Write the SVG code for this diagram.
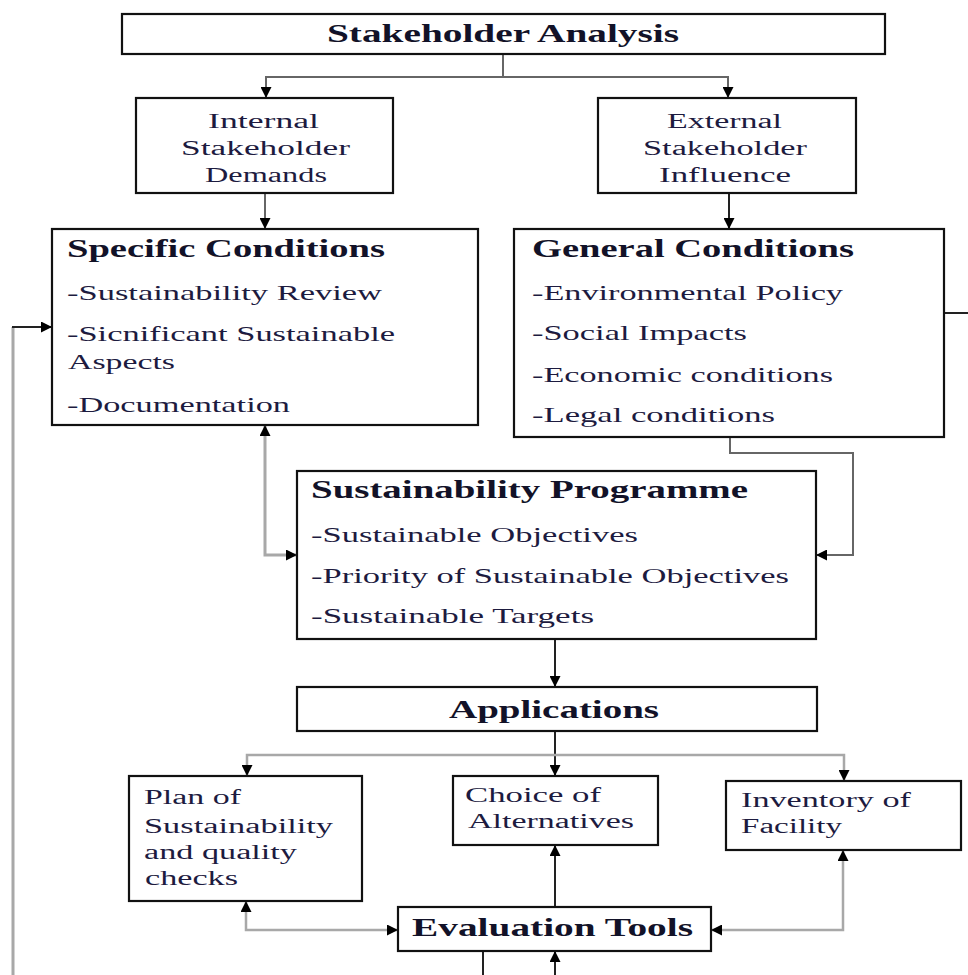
<svg xmlns="http://www.w3.org/2000/svg" width="968" height="975" viewBox="0 0 968 975">
  <defs>
    <marker id="arrow" viewBox="0 0 10 10" refX="10" refY="5" markerWidth="11" markerHeight="11" markerUnits="userSpaceOnUse" orient="auto-start-reverse">
      <path d="M0,0 L10,5 L0,10 z" fill="#000"/>
    </marker>
    <style>
      .box { fill: #fff; stroke: #111; stroke-width: 2.2; }
      .t { font-family: "Liberation Serif", "Times New Roman", serif; fill: #1d1b3f; }
      .h { font-weight: bold; font-size: 26px; fill: #121228; }
      .s20 { font-size: 20.5px; }
      .s21 { font-size: 22px; }
      .c { fill: none; stroke-width: 2; }
      .dark { stroke: #222; }
      .mid { stroke: #666; }
      .light { stroke: #a8a8a8; stroke-width: 3; }
    </style>
  </defs>

  <!-- connectors -->
  <g id="connectors">
    <path class="c mid" d="M503,54 V77"/>
    <path class="c mid" d="M503,77 H266 V98" marker-end="url(#arrow)"/>
    <path class="c mid" d="M503,77 H728 V98" marker-end="url(#arrow)"/>
    <path class="c mid" d="M265,194 V229" marker-end="url(#arrow)"/>
    <path class="c dark" d="M729,194 V229" marker-end="url(#arrow)"/>
    <path class="c light" d="M13,975 V327"/>
    <path class="c dark" d="M12,327 H52" marker-end="url(#arrow)"/>
    <path class="c light" d="M265,425 V555 H297" marker-start="url(#arrow)" marker-end="url(#arrow)"/>
    <path class="c mid" d="M730,437 V453 H853 V555 H816" marker-end="url(#arrow)"/>
    <path class="c dark" d="M944,313 H968"/>
    <path class="c dark" d="M555,639 V687" marker-end="url(#arrow)"/>
    <path class="c dark" d="M555,731 V776" marker-end="url(#arrow)"/>
    <path class="c light" style="stroke-width:2.5" d="M247,776 V755 H844 V781" marker-start="url(#arrow)" marker-end="url(#arrow)"/>
    <path class="c light" style="stroke-width:2.5" d="M246,901 V930 H398" marker-start="url(#arrow)" marker-end="url(#arrow)"/>
    <path class="c light" style="stroke-width:2.5" d="M843,850 V930 H711" marker-start="url(#arrow)" marker-end="url(#arrow)"/>
    <path class="c dark" d="M555,907 V845" marker-end="url(#arrow)"/>
    <path class="c dark" d="M483,951 V975"/>
    <path class="c dark" d="M555,975 V951" marker-end="url(#arrow)"/>
  </g>

  <g id="stakeholder-analysis">
    <rect class="box" x="122" y="14" width="763" height="40"/>
    <text class="t h" x="327" y="42" textLength="352" lengthAdjust="spacingAndGlyphs">Stakeholder Analysis</text>
  </g>

  <g id="internal-demands">
    <rect class="box" x="136" y="98" width="257" height="95"/>
    <text class="t s20" x="208" y="128" textLength="111" lengthAdjust="spacingAndGlyphs">Internal</text>
    <text class="t s20" x="181" y="155" textLength="169" lengthAdjust="spacingAndGlyphs">Stakeholder</text>
    <text class="t s20" x="205" y="182" textLength="122" lengthAdjust="spacingAndGlyphs">Demands</text>
  </g>

  <g id="external-influence">
    <rect class="box" x="598" y="98" width="258" height="95"/>
    <text class="t s20" x="667" y="128" textLength="115" lengthAdjust="spacingAndGlyphs">External</text>
    <text class="t s20" x="643" y="155" textLength="164" lengthAdjust="spacingAndGlyphs">Stakeholder</text>
    <text class="t s20" x="659" y="182" textLength="132" lengthAdjust="spacingAndGlyphs">Influence</text>
  </g>

  <g id="specific-conditions">
    <rect class="box" x="52" y="229" width="426" height="196"/>
    <text class="t h" x="67" y="257" textLength="318" lengthAdjust="spacingAndGlyphs">Specific Conditions</text>
    <text class="t s21" x="67" y="300" textLength="315" lengthAdjust="spacingAndGlyphs">-Sustainability Review</text>
    <text class="t s21" x="67" y="341" textLength="328" lengthAdjust="spacingAndGlyphs">-Sicnificant Sustainable</text>
    <text class="t s21" x="68" y="369" textLength="107" lengthAdjust="spacingAndGlyphs">Aspects</text>
    <text class="t s21" x="67" y="412" textLength="223" lengthAdjust="spacingAndGlyphs">-Documentation</text>
  </g>

  <g id="general-conditions">
    <rect class="box" x="514" y="229" width="430" height="208"/>
    <text class="t h" x="532" y="257" textLength="322" lengthAdjust="spacingAndGlyphs">General Conditions</text>
    <text class="t s21" x="532" y="300" textLength="311" lengthAdjust="spacingAndGlyphs">-Environmental Policy</text>
    <text class="t s21" x="532" y="340" textLength="215" lengthAdjust="spacingAndGlyphs">-Social Impacts</text>
    <text class="t s21" x="532" y="382" textLength="301" lengthAdjust="spacingAndGlyphs">-Economic conditions</text>
    <text class="t s21" x="532" y="422" textLength="243" lengthAdjust="spacingAndGlyphs">-Legal conditions</text>
  </g>

  <g id="sustainability-programme">
    <rect class="box" x="297" y="471" width="519" height="168"/>
    <text class="t h" x="311" y="498" textLength="437" lengthAdjust="spacingAndGlyphs">Sustainability Programme</text>
    <text class="t s21" x="311" y="542" textLength="327" lengthAdjust="spacingAndGlyphs">-Sustainable Objectives</text>
    <text class="t s21" x="311" y="583" textLength="478" lengthAdjust="spacingAndGlyphs">-Priority of Sustainable Objectives</text>
    <text class="t s21" x="311" y="623" textLength="283" lengthAdjust="spacingAndGlyphs">-Sustainable Targets</text>
  </g>

  <g id="applications">
    <rect class="box" x="297" y="687" width="520" height="44"/>
    <text class="t h" x="449" y="718" textLength="210" lengthAdjust="spacingAndGlyphs">Applications</text>
  </g>

  <g id="plan-checks">
    <rect class="box" x="129" y="776" width="233" height="125"/>
    <text class="t s20" x="144" y="804" textLength="97" lengthAdjust="spacingAndGlyphs">Plan of</text>
    <text class="t s20" x="144" y="833" textLength="189" lengthAdjust="spacingAndGlyphs">Sustainability</text>
    <text class="t s20" x="144" y="859" textLength="153" lengthAdjust="spacingAndGlyphs">and quality</text>
    <text class="t s20" x="145" y="885" textLength="93" lengthAdjust="spacingAndGlyphs">checks</text>
  </g>

  <g id="choice-alternatives">
    <rect class="box" x="453" y="776" width="205" height="69"/>
    <text class="t s20" x="465" y="802" textLength="136" lengthAdjust="spacingAndGlyphs">Choice of</text>
    <text class="t s20" x="468" y="828" textLength="166" lengthAdjust="spacingAndGlyphs">Alternatives</text>
  </g>

  <g id="inventory-facility">
    <rect class="box" x="726" y="781" width="235" height="69"/>
    <text class="t s20" x="741" y="807" textLength="170" lengthAdjust="spacingAndGlyphs">Inventory of</text>
    <text class="t s20" x="741" y="833" textLength="101" lengthAdjust="spacingAndGlyphs">Facility</text>
  </g>

  <g id="evaluation-tools">
    <rect class="box" x="398" y="907" width="313" height="44"/>
    <text class="t h" x="412" y="936" textLength="281" lengthAdjust="spacingAndGlyphs" style="font-size:25px">Evaluation Tools</text>
  </g>
</svg>
